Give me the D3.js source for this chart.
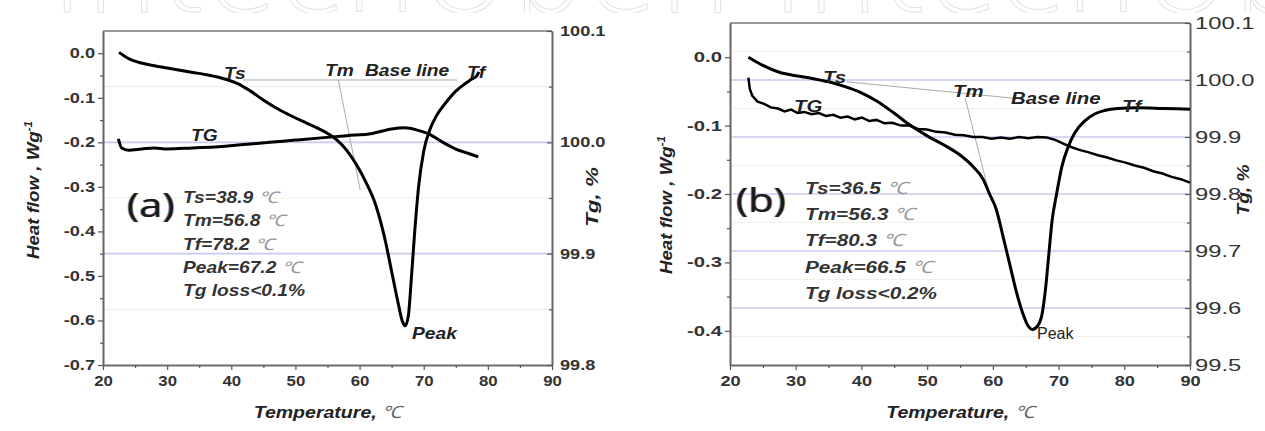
<!DOCTYPE html>
<html>
<head>
<meta charset="utf-8">
<script src="https://cdn.jsdelivr.net/npm/d3@7"></script>
<style>
body{margin:0;background:#fff;}
svg{display:block;font-family:Arial,"Liberation Sans",sans-serif;}
</style>
</head>
<body>
<svg id="chart" width="1265" height="431"></svg>
<script>
// ---- данные панели (a) ----
const heatA = [[22.5,0.002],[24,-0.012],[26,-0.022],[28,-0.028],[30,-0.033],[32,-0.038],[34,-0.043],[36,-0.048],
  [38,-0.054],[39.5,-0.060],[41,-0.068],[43,-0.085],[45,-0.105],[47,-0.123],[49,-0.138],[51,-0.152],[53,-0.165],
  [55,-0.180],[56.5,-0.195],[58,-0.218],[59.5,-0.25],[61,-0.29],[62.5,-0.34],[64,-0.42],[65,-0.49],[66,-0.56],
  [66.7,-0.603],[67.1,-0.612],[67.6,-0.59],[68.1,-0.50],[68.6,-0.40],[69.2,-0.30],[70,-0.22],[71,-0.17],
  [72,-0.14],[73.5,-0.11],[75,-0.085],[76.5,-0.068],[77.5,-0.058],[78.3,-0.05],[78.6,-0.042]];
const tgA = [[22.4,100.003],[22.9,99.995],[24,99.993],[26,99.994],[28,99.995],[30,99.994],[34,99.995],[38,99.996],
  [42,99.998],[46,100.0],[50,100.002],[54,100.004],[58,100.006],[62,100.008],[65,100.012],[67,100.013],
  [69,100.011],[71,100.007],[73,100.0],[75,99.994],[77,99.99],[78.5,99.987]];
const baseLineA = [[41.8,-0.06],[75.2,-0.06]];
const tmLineA = [[56.7,-0.06],[60.1,-0.307]];
const infoA = ["Ts=38.9 ", "Tm=56.8 ", "Tf=78.2 ", "Peak=67.2 ", "Tg loss<0.1%"];

// ---- данные панели (b) ----
const heatB = [[22.8,0.0],[25,-0.012],[27.5,-0.022],[30,-0.027],[32.5,-0.031],[35,-0.036],[37.5,-0.043],[40,-0.052],
  [42.5,-0.065],[45,-0.082],[47.5,-0.1],[50,-0.115],[52.5,-0.128],[55,-0.143],[57,-0.160],[58.5,-0.178],
  [59.5,-0.2],[60.5,-0.222],[61.5,-0.26],[62.5,-0.30],[63.5,-0.34],[64.5,-0.373],[65.3,-0.392],[66,-0.398],
  [66.8,-0.393],[67.5,-0.375],[68,-0.34],[68.5,-0.29],[69,-0.24],[69.7,-0.2],[70.5,-0.16],[71.5,-0.13],
  [72.5,-0.11],[74,-0.093],[75.5,-0.083],[77,-0.078],[79,-0.075],[82,-0.074],[86,-0.075],[90,-0.076]];
const tgB = [[22.8,100.004],[23.0,99.985],[23.4,99.972],[24.2,99.962],[25.2,99.958],[26.2,99.952],[27.3,99.95],
  [28.3,99.945],[29.3,99.948],[30.3,99.942],[31.3,99.944],[32.4,99.94],[33.5,99.942],[34.6,99.937],[35.7,99.939],
  [36.8,99.934],[37.9,99.936],[39,99.931],[40.1,99.934],[41.2,99.928],[42.3,99.93],[43.5,99.924],[44.7,99.925],
  [46,99.92],[47.3,99.92],[48.6,99.914],[50,99.913],[51.4,99.909],[52.8,99.908],[54.2,99.904],[55.6,99.903],
  [57,99.9],[58.4,99.9],[59.8,99.897],[61.2,99.899],[62.6,99.897],[64,99.9],[65.4,99.898],[66.8,99.9],
  [68.2,99.899],[69.5,99.895],[70.8,99.888],[72,99.882],[73.3,99.877],[74.6,99.873],[76,99.868],[77.4,99.864],
  [78.8,99.859],[80.2,99.855],[81.6,99.85],[83,99.846],[84.4,99.84],[85.8,99.836],[87.2,99.83],[88.6,99.826],[90,99.82]];
const baseLineB = [[37.8,-0.036],[63.2,-0.060]];
const tmLineB = [[55.8,-0.060],[59.3,-0.194]];
const infoB = ["Ts=36.5 ", "Tm=56.3 ", "Tf=80.3 ", "Peak=66.5 ", "Tg loss<0.2%"];

// ---- подписи осей ----
const xTicks = [20,30,40,50,60,70,80,90];
const xMinor = [25,35,45,55,65,75,85];
const leftTicksA = [0.0,-0.1,-0.2,-0.3,-0.4,-0.5,-0.6,-0.7];
const rightTicksA = [100.1,100.0,99.9,99.8];
const leftTicksB = [0.0,-0.1,-0.2,-0.3,-0.4];
const rightTicksB = [100.1,100.0,99.9,99.8,99.7,99.6,99.5];

const svg = d3.select("#chart");
const fmt = d => d.toFixed(1);

// растянуть текст по горизонтали (в оригинале шрифт широкий)
function stretch(sel, k) {
  sel.each(function () {
    const t = d3.select(this);
    const x = +t.attr("x") || 0;
    t.attr("x", x / k).attr("transform", `scale(${k},1)`);
  });
}

// текст в точке x,y с растяжкой k
function label(g, x, y, k, rot) {
  return g.append("g").attr("transform", `translate(${x},${y})${rot ? " rotate(-90)" : ""} scale(${k},1)`).append("text");
}

// водяной знак сверху
svg.append("clipPath").attr("id","wm").append("rect").attr("x",0).attr("y",0).attr("width",1265).attr("height",13);
svg.append("text")
  .attr("clip-path","url(#wm)")
  .attr("x",50).attr("y",12)
  .style("font-size","118px").style("fill","none").style("stroke","#e3e3e3").style("stroke-width",1)
  .style("font-family","'DejaVu Sans', sans-serif").style("font-weight","200")
  .text("IntechOpen  IntechOpen");

function drawPanel(p) {
  const sx = d3.scaleLinear().domain([20,90]).range([p.x0,p.x1]);
  const sl = d3.scaleLinear().domain(p.left).range([p.y1,p.y0]);
  const sr = d3.scaleLinear().domain(p.right).range([p.y1,p.y0]);
  const g = svg.append("g");

  // сетка по правой оси
  const step = 0.05;
  for (let v = p.right[0] + step; v < p.right[1] - 0.001; v += step) {
    const major = Math.abs(Math.round(v*10) - v*10) < 0.01;
    g.append("line").attr("x1",p.x0).attr("x2",p.x1).attr("y1",sr(v)).attr("y2",sr(v))
      .style("stroke", major ? "#cacaf0" : "#eef2e4").style("stroke-width", major ? 1.6 : 1.2);
  }

  // рамка сверху
  g.append("line").attr("x1",p.x0).attr("x2",p.x1).attr("y1",p.y0).attr("y2",p.y0)
    .style("stroke","#777").style("stroke-width",1.5);

  // оси
  const ax = g.append("g").attr("transform",`translate(0,${p.y1})`)
    .call(d3.axisBottom(sx).tickValues(xTicks).tickFormat(d => d).tickSize(5).tickSizeOuter(0).tickPadding(6));
  g.append("g").attr("transform",`translate(0,${p.y1})`)
    .call(d3.axisBottom(sx).tickValues(xMinor).tickFormat("").tickSize(3).tickSizeOuter(0));
  const al = g.append("g").attr("transform",`translate(${p.x0},0)`)
    .call(d3.axisLeft(sl).tickValues(p.leftTicks).tickFormat(fmt).tickSize(5).tickSizeOuter(0).tickPadding(3));
  g.append("g").attr("transform",`translate(${p.x0},0)`)
    .call(d3.axisLeft(sl).tickValues(p.leftTicks.map(d => d - 0.05).filter(d => d > p.left[0])).tickFormat("").tickSize(3).tickSizeOuter(0));
  const ar = g.append("g").attr("transform",`translate(${p.x1},0)`)
    .call(d3.axisRight(sr).tickValues(p.rightTicks).tickFormat(fmt).tickSize(-5).tickSizeOuter(0).tickPadding(p.rightPad));
  g.append("g").attr("transform",`translate(${p.x1},0)`)
    .call(d3.axisRight(sr).tickValues(p.rightTicks.map(d => d - 0.05).filter(d => d > p.right[0])).tickFormat("").tickSize(-3).tickSizeOuter(0));

  g.selectAll(".domain").style("stroke","#666").style("stroke-width",1.6);
  g.selectAll(".tick line").style("stroke","#555").style("stroke-width",1.2);
  g.selectAll(".tick text").style("fill","#333").style("font-family","Arial,'Liberation Sans',sans-serif");
  ax.selectAll("text").style("font-size","14px").style("font-weight","bold");
  al.selectAll("text").style("font-size","14px").style("font-weight","bold");
  ar.selectAll("text").style("font-size",p.rightFont).style("font-weight",p.rightWeight);
  stretch(ax.selectAll("text"), p.kx);
  stretch(al.selectAll("text"), p.ky);
  stretch(ar.selectAll("text"), p.kr);

  // тонкие линии базовой линии и Tm
  const ln = d3.line().x(d => sx(d[0])).y(d => sl(d[1]));
  g.append("path").attr("d", ln(p.baseLine)).style("fill","none").style("stroke","#aaa").style("stroke-width",1);
  g.append("path").attr("d", ln(p.tmLine)).style("fill","none").style("stroke","#aaa").style("stroke-width",1);

  // кривые
  const heatLine = d3.line().x(d => sx(d[0])).y(d => sl(d[1])).curve(d3.curveMonotoneX);
  const tgLine = d3.line().x(d => sx(d[0])).y(d => sr(d[1])).curve(p.tgCurve);
  g.append("path").attr("d", heatLine(p.heat)).style("fill","none").style("stroke","#000").style("stroke-width",3);
  g.append("path").attr("d", tgLine(p.tg)).style("fill","none").style("stroke","#000").style("stroke-width",p.tgWidth);

  // подписи на графике
  p.labels.forEach(l => {
    label(g, l.x, l.y, l.plain ? 1 : 1.2).text(l.t)
      .style("font-size", l.plain ? "16px" : p.labelFont).style("font-weight", l.plain ? "normal" : "bold")
      .style("font-style", l.plain ? "normal" : "italic").style("fill","#222");
  });

  // (a)/(b) с цветной каймой
  [["#f0a030",1.1,0.8],["#3070d0",-1.1,0.8],["#1a1a1a",0,1]].forEach(c => {
    label(g, p.tagX + c[1], p.tagY, 1.3).text(p.tag)
      .style("font-family","'Open Sans','Noto Sans',sans-serif").style("font-size","32px")
      .style("fill",c[0]).style("opacity",c[2]);
  });

  // блок с параметрами
  p.info.forEach((s, i) => {
    const t = label(g, p.infoX, p.infoY + i*p.infoDy, p.infoK)
      .style("font-size",p.infoFont).style("font-weight","bold").style("font-style","italic").style("fill","#333");
    t.append("tspan").text(s);
    if (i < 4) t.append("tspan").text("℃").style("font-weight","normal").style("fill","#999");
  });

  // заголовки осей
  const xt = label(g, (p.x0+p.x1)/2, 418, 1.15).attr("text-anchor","middle")
    .style("font-size","17px").style("font-weight","bold").style("font-style","italic").style("fill","#222");
  xt.append("tspan").text("Temperature, ");
  xt.append("tspan").text("℃").style("font-weight","normal").style("fill","#666");

  const yt = label(g, p.yTitleX, p.yTitleY, 1.17, true).attr("text-anchor","middle")
    .style("font-size","16px").style("font-weight","bold").style("font-style","italic").style("fill","#222");
  yt.append("tspan").text("Heat flow , Wg");
  yt.append("tspan").text("-1").attr("dy",-7).style("font-size","10px");

  label(g, p.rTitleX, p.rTitleY, p.rTitleK, true).attr("text-anchor","middle")
    .style("font-size","16px").style("font-weight","bold").style("font-style","italic").style("fill","#222")
    .text("Tg, %");
}

drawPanel({
  x0:103, x1:552, y0:31, y1:365, left:[-0.7,0.05], right:[99.8,100.1],
  leftTicks:leftTicksA, rightTicks:rightTicksA, rightPad:8,
  rightFont:"14px", rightWeight:"bold", kx:1.2, ky:1.3, kr:1.3,
  heat:heatA, tg:tgA, baseLine:baseLineA, tmLine:tmLineA, tgCurve:d3.curveMonotoneX, tgWidth:3,
  labelFont:"16px",
  labels:[{x:224,y:79,t:"Ts"},{x:325,y:76,t:"Tm"},{x:365,y:76,t:"Base line"},{x:467,y:78,t:"Tf"},
          {x:191,y:141,t:"TG"},{x:412,y:339,t:"Peak"}],
  tag:"(a)", tagX:127, tagY:217,
  info:infoA, infoX:183, infoY:203, infoDy:23.3, infoFont:"16px", infoK:1.2,
  yTitleX:39, yTitleY:190, rTitleX:598, rTitleY:197, rTitleK:1.4
});

drawPanel({
  x0:730, x1:1190, y0:23, y1:365, left:[-0.45,0.05], right:[99.5,100.1],
  leftTicks:leftTicksB, rightTicks:rightTicksB, rightPad:5,
  rightFont:"17px", rightWeight:"normal", kx:1.3, ky:1.45, kr:1.4,
  heat:heatB, tg:tgB, baseLine:baseLineB, tmLine:tmLineB, tgCurve:d3.curveLinear, tgWidth:2.5,
  labelFont:"17px",
  labels:[{x:823,y:83,t:"Ts"},{x:953,y:97,t:"Tm"},{x:1011,y:104,t:"Base line"},{x:1122,y:112,t:"Tf"},
          {x:794,y:112,t:"TG"},{x:1037,y:339,t:"Peak",plain:true}],
  tag:"(b)", tagX:736, tagY:212,
  info:infoB, infoX:805, infoY:194, infoDy:26.2, infoFont:"17px", infoK:1.22,
  yTitleX:672, yTitleY:205, rTitleX:1249, rTitleY:190, rTitleK:1.2
});
</script>
</body>
</html>
